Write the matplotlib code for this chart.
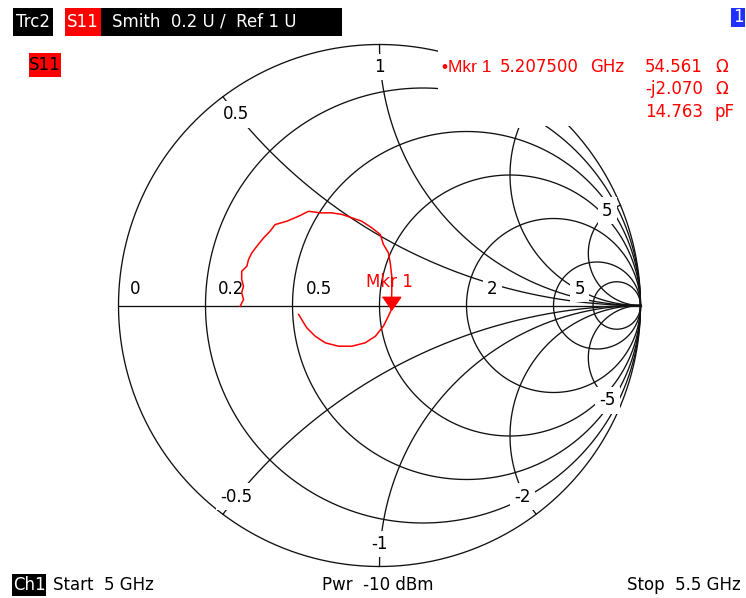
import numpy as np
import matplotlib.pyplot as plt
from matplotlib.patches import Rectangle

plt.rcParams['font.family'] = ['DejaVu Sans']

#%%
# Smith grid: resistance circles and reactance arcs (normalised to 50 Ohm)
r_grid = [0.2, 0.5, 1, 2, 5, 10]
x_grid = [0.5, 1, 2, 5]

r_label_vals = [0, 0.2, 0.5, 2, 5]
r_labels = ['0', '0.2', '0.5', '2', '5']
x_label_vals = [0.5, 1, 2, 5, -0.5, -1, -2, -5]
x_labels = ['0.5', '1', '2', '5', '-0.5', '-1', '-2', '-5']

# S11 trace, reflection coefficient (re, im), 5 GHz -> 5.5 GHz
s11_re = [-0.534, -0.521, -0.528, -0.521, -0.528, -0.528, -0.508, -0.502, -0.489, -0.470,
          -0.444, -0.419, -0.400, -0.355, -0.310, -0.272, -0.227, -0.183, -0.144, -0.106,
          -0.068, -0.030, 0.003, 0.015, 0.034, 0.041, 0.047, 0.047, 0.044, 0.034,
          0.015, -0.016, -0.055, -0.106, -0.157, -0.208, -0.246, -0.279, -0.298, -0.310]
s11_im = [-0.003, 0.023, 0.049, 0.074, 0.100, 0.131, 0.151, 0.176, 0.202, 0.227,
          0.259, 0.285, 0.310, 0.323, 0.342, 0.361, 0.355, 0.355, 0.349, 0.336,
          0.323, 0.298, 0.272, 0.234, 0.202, 0.164, 0.112, 0.049, -0.019, -0.041,
          -0.079, -0.118, -0.143, -0.156, -0.156, -0.143, -0.118, -0.085, -0.054, -0.034]

# marker 1 readout
mkr_freq = '5.207500'
mkr_r = 54.561
mkr_x = -2.070
mkr_c = 14.763
z0 = 50.0

#%%
W, H = 746, 598
fig = plt.figure(figsize=(W / 100, H / 100), dpi=100)
fig.patch.set_facecolor('white')

# chart axes in reflection coefficient units, centre at pixel (379.5, 305.5), radius 261 px
cx, cy, rad = 379.5, 305.5, 261.0
ax = fig.add_axes([0, 0, 1, 1])
ax.set_xlim(-cx / rad, (W - cx) / rad)
ax.set_ylim(-(H - cy) / rad, cy / rad)
ax.axis('off')

gc = '#111111'
glw = 0.95

t = np.linspace(0, 2 * np.pi, 1441)
ax.plot(np.cos(t), np.sin(t), color=gc, lw=glw, zorder=1)
for r in r_grid:
    c = r / (r + 1)
    rr = 1 / (r + 1)
    ax.plot(c + rr * np.cos(t), rr * np.sin(t), color=gc, lw=glw, zorder=1)
ax.plot([-1, 1], [0, 0], color=gc, lw=glw, zorder=1)

rs = np.concatenate([np.linspace(0, 1, 300), np.geomspace(1, 1e5, 600)])
for x in x_grid:
    for s in (1, -1):
        z = rs + 1j * s * x
        g = (z - 1) / (z + 1)
        ax.plot(g.real, g.imag, color=gc, lw=glw, zorder=1)

lbl_box = dict(boxstyle='square,pad=0.25', fc='white', ec='none')
fs = 12

# resistance labels just above the real axis
for r, lab in zip(r_label_vals, r_labels):
    dx = 17 if r == 0 else 26
    ax.annotate(lab, ((r - 1) / (r + 1), 0), xytext=(dx, 17), textcoords='offset pixels',
                ha='center', va='center', fontsize=fs, color='black', bbox=lbl_box, zorder=3)

# reactance labels near the rim
for x, lab in zip(x_label_vals, x_labels):
    g = (1j * x - 1) / (1j * x + 1)
    k = 0.945 if abs(x) >= 5 else 0.915
    ax.text(k * g.real, k * g.imag, lab, ha='center', va='center', fontsize=fs,
            color='black', bbox=lbl_box, zorder=3)

# trace
ax.plot(s11_re, s11_im, color='#ff0000', lw=1.1, zorder=4)

# marker
zm = (mkr_r + 1j * mkr_x) / z0
gm = (zm - 1) / (zm + 1)
ax.plot([gm.real], [gm.imag], marker=[(-0.7, 1.0), (0.7, 1.0), (0.0, 0.0)], ms=19,
        color='#ff0000', mec='#ff0000', zorder=5)
ax.annotate('Mkr 1', (gm.real, gm.imag), xytext=(-25, 28), textcoords='offset pixels',
            ha='left', va='center', fontsize=fs, color='#ff0000', zorder=5)

#%%
# overlay in screen pixels for the instrument annotations
ov = fig.add_axes([0, 0, 1, 1])
ov.set_xlim(0, W)
ov.set_ylim(H, 0)
ov.axis('off')
ov.patch.set_visible(False)

# marker info area hides the grid
ov.add_patch(Rectangle((438, 36), W - 438, 90, fc='white', ec='none'))

red = '#ff0000'
ov.add_patch(Rectangle((13, 8), 40, 28, fc='black', ec='none'))
ov.text(33, 22, 'Trc2', color='white', fontsize=fs, ha='center', va='center')
ov.add_patch(Rectangle((65, 8), 36, 28, fc=red, ec='none'))
ov.text(83, 22, 'S11', color='white', fontsize=fs, ha='center', va='center')
ov.add_patch(Rectangle((101, 8), 241, 28, fc='black', ec='none'))
ov.text(112, 22, 'Smith  0.2 U /  Ref 1 U', color='white', fontsize=fs, ha='left', va='center')

ov.add_patch(Rectangle((29, 53), 32, 24, fc=red, ec='none'))
ov.text(45, 65, 'S11', color='black', fontsize=fs, ha='center', va='center')

ov.add_patch(Rectangle((731, 8), 14, 19, fc='#2030ff', ec='none'))
ov.text(738, 17.5, '1', color='white', fontsize=fs, ha='center', va='center')

ov.text(442, 67, '\u2022Mkr 1', color=red, fontsize=12.5, family='Liberation Sans',
        ha='left', va='center')
ov.text(500, 67, mkr_freq, color=red, fontsize=fs, ha='left', va='center')
ov.text(590, 67, 'GHz', color=red, fontsize=fs, ha='left', va='center')
ov.text(703, 67, f'{mkr_r:.3f}', color=red, fontsize=fs, ha='right', va='center')
ov.text(715, 67, '\u03a9', color=red, fontsize=fs, ha='left', va='center')
ov.text(703, 89, f'-j{abs(mkr_x):.3f}', color=red, fontsize=fs, ha='right', va='center')
ov.text(715, 89, '\u03a9', color=red, fontsize=fs, ha='left', va='center')
ov.text(703, 112, f'{mkr_c:.3f}', color=red, fontsize=fs, ha='right', va='center')
ov.text(715, 112, 'pF', color=red, fontsize=fs, ha='left', va='center')

# channel footer
ov.add_patch(Rectangle((12, 574), 34, 22, fc='black', ec='none'))
ov.text(29, 585, 'Ch1', color='white', fontsize=fs, ha='center', va='center')
ov.text(53, 585, 'Start  5 GHz', color='black', fontsize=fs, ha='left', va='center')
ov.text(378, 585, 'Pwr  -10 dBm', color='black', fontsize=fs, ha='center', va='center')
ov.text(741, 585, 'Stop  5.5 GHz', color='black', fontsize=fs, ha='right', va='center')

fig.savefig('out.png', dpi=100)
